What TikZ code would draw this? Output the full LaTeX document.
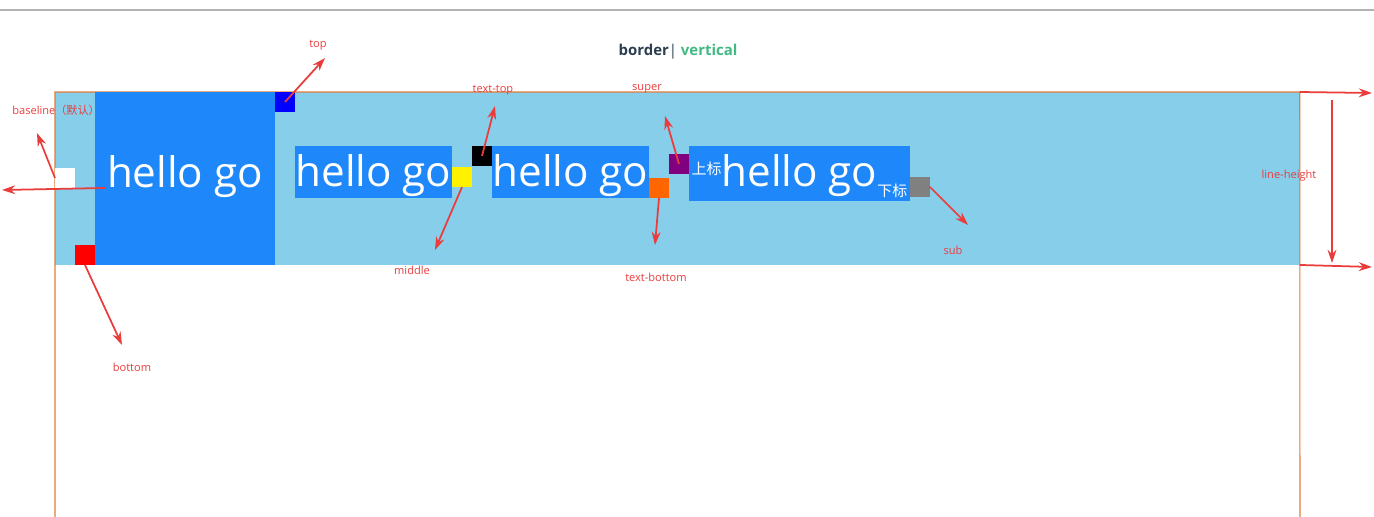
\documentclass[tikz,border=0pt]{standalone}
\usepackage{fontspec}
\setmainfont{Open Sans}
\newfontfamily\cjk{Noto Sans CJK SC}
\usepackage{tikz}
\usetikzlibrary{positioning,arrows.meta}

\definecolor{sky}{HTML}{87CEEB}
\definecolor{dodger}{HTML}{1E88FB}
\definecolor{edgeorange}{HTML}{E07B39}
\definecolor{markred}{HTML}{EB3C3C}
\definecolor{titledark}{HTML}{2C3E50}
\definecolor{titlegreen}{HTML}{42B983}
\definecolor{sqorange}{HTML}{FF6600}
\definecolor{sqpurple}{HTML}{800080}
\definecolor{sqgray}{HTML}{808080}

\begin{document}
\begin{tikzpicture}[x=0.02cm,y=-0.02cm,
    sq/.style={minimum size=0.4cm,inner sep=0pt,outer sep=0pt,anchor=north west},
    hello/.style={fill=dodger,text=white,inner sep=0pt,outer sep=0pt,anchor=north west,
                  font=\fontsize{24}{24}\selectfont},
    tag/.style={text=markred,inner sep=0pt,font=\fontsize{6.3}{7}\selectfont},
    pointer/.style={color=markred,line width=1pt,-{Stealth[length=7.5pt,width=5pt]}}]
  \useasboundingbox (0,0) rectangle (1374,517);
  \draw[black!30,line width=0.6pt] (0,10) -- (1374,10);

  \node (Title) at (678,52) {\fontsize{8.5}{10}\selectfont\color{titledark}\bfseries border\mdseries|
    \color{titlegreen}\bfseries vertical};

  % the line box
  \node[fill=sky,inner sep=0pt,outer sep=0pt,anchor=north west,
        minimum width=24.9cm,minimum height=3.46cm] (LineBox) at (55,92) {};
  \draw[edgeorange,line width=0.6pt] (55,517) -- (LineBox.north west)
    -- (LineBox.north east) -- (1300,517);

  % inline boxes
  \node[hello,text height=1.92cm,text depth=1.54cm,minimum width=3.6cm] (HelloA) at (95,92) {hello go};
  \node[hello,text height=0.82cm,text depth=0.22cm,minimum width=3.14cm] (HelloB) at (295,146) {hello go};
  \node[hello,text height=0.82cm,text depth=0.22cm,minimum width=3.14cm] (HelloC) at (492,146) {hello go};
  \node[hello,text height=0.82cm,text depth=0.28cm,minimum width=4.42cm] (HelloD) at (689,146)
    {{\cjk\fontsize{8.5}{8.5}\selectfont\raisebox{7pt}{上标}}hello go{\cjk\fontsize{8.5}{8.5}\selectfont\raisebox{-5.5pt}{下标}}};

  % aligned squares
  \node[sq,fill=white]    (White)  at (55,168)  {};
  \node[sq,fill=red]      (Red)    at (75,245)  {};
  \node[sq,fill=blue]     (Blue)   at (275,92)  {};
  \node[sq,fill=yellow]   (Yellow) at (452,167) {};
  \node[sq,fill=black]    (Black)  at (472,146) {};
  \node[sq,fill=sqorange] (Orange) at (649,178) {};
  \node[sq,fill=sqpurple] (Purple) at (669,154) {};
  \node[sq,fill=sqgray]   (Gray)   at (910,177) {};

  % labels
  \node[tag] (TopTag)        at (318,45)  {top};
  \node[tag] (BaseTag)       at (56,110)  {baseline{\cjk（默认）}};
  \node[tag] (TextTopTag)    at (493,90)  {text-top};
  \node[tag] (SuperTag)      at (647,89)  {super};
  \node[tag] (MiddleTag)     at (412,270) {middle};
  \node[tag] (TextBottomTag) at (656,277) {text-bottom};
  \node[tag] (SubTag)        at (953,250) {sub};
  \node[tag] (BottomTag)     at (132,367) {bottom};
  \node[tag] (LineHeightTag) at (1289,176) {line-height};

  \coordinate (TopTip)        at (325,58);
  \coordinate (BaseTip)       at (37,133);
  \coordinate (BaseLeftTip)   at (2,190);
  \coordinate (TextTopTip)    at (495,106);
  \coordinate (SuperTip)      at (665,116);
  \coordinate (MiddleTip)     at (435,250);
  \coordinate (TextBottomTip) at (655,245);
  \coordinate (SubTip)        at (968,225);
  \coordinate (BottomTip)     at (122,345);
  \coordinate (LHTopTip)      at (1372,93);
  \coordinate (LHBotTip)      at (1372,267);
  \coordinate (LHStart)       at (1332,100);
  \coordinate (LHEnd)         at (1332,263);

  \path[pointer]
    (Blue.center)                    edge (TopTip)
    (White.west)                     edge (BaseTip)
    ([xshift=0.2cm]HelloA.base west) edge (BaseLeftTip)
    (Black.center)                   edge (TextTopTip)
    (Purple.center)                  edge (SuperTip)
    (Yellow.south)                   edge (MiddleTip)
    (Orange.south)                   edge (TextBottomTip)
    (Gray.east)                      edge (SubTip)
    (Red.south)                      edge (BottomTip)
    (LineBox.north east)             edge (LHTopTip)
    (LineBox.south east)             edge (LHBotTip)
    (LHStart)                        edge (LHEnd);
\end{tikzpicture}
\end{document}
